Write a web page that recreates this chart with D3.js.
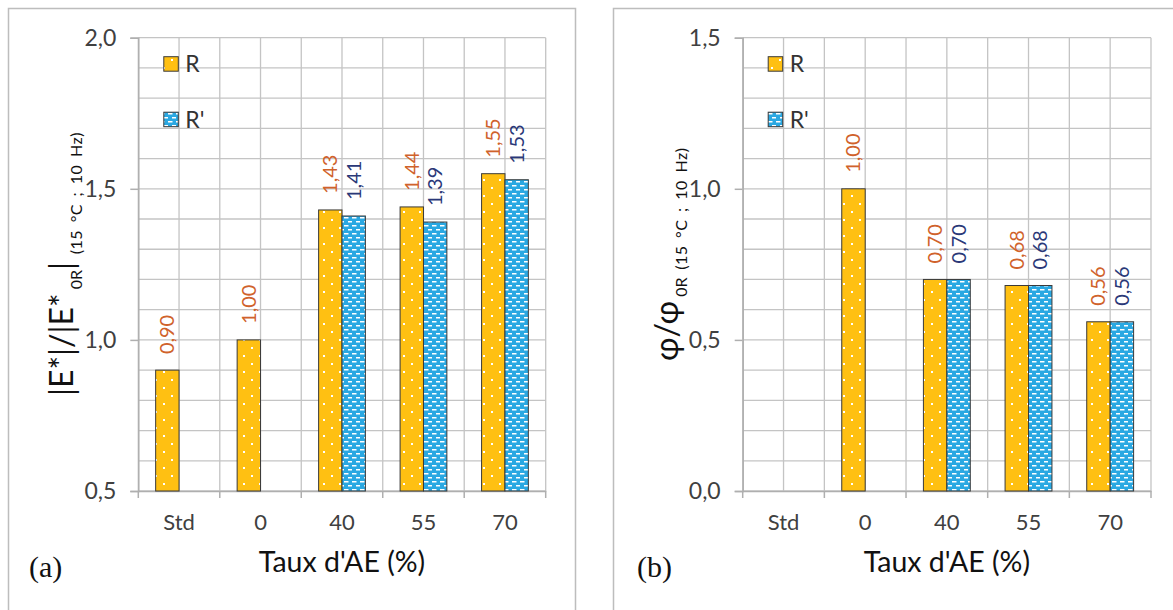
<!DOCTYPE html>
<html><head><meta charset="utf-8">
<script src="https://cdn.jsdelivr.net/npm/d3@7"></script>
<style>
html,body{margin:0;padding:0;background:#fff;}
svg{display:block;font-family:Lato,"Noto Sans",sans-serif;}
</style></head>
<body>
<svg id="c" width="1173" height="610"></svg>
<script>
// ---- data ----
const categories = ["Std", "0", "40", "55", "70"];
const seriesNames = ["R", "R'"];
const modulusR  = [0.90, 1.00, 1.43, 1.44, 1.55];
const modulusRp = [null, null, 1.41, 1.39, 1.53];
const phaseR    = [null, 1.00, 0.70, 0.68, 0.56];
const phaseRp   = [null, null, 0.70, 0.68, 0.56];
const modulusTicks = [0.5, 1.0, 1.5, 2.0];
const phaseTicks   = [0.0, 0.5, 1.0, 1.5];
const xTitle = "Taux d'AE (%)";

const svg = d3.select("#c");
const fmt2 = v => d3.format(".2f")(v).replace(".", ",");
const fmt1 = v => d3.format(".1f")(v).replace(".", ",");

// patterns
const defs = svg.append("defs");
const pR = defs.append("pattern").attr("id","patR").attr("patternUnits","userSpaceOnUse")
  .attr("width",16).attr("height",16);
pR.append("rect").attr("width",16).attr("height",16).attr("fill","#FFC012");
pR.append("rect").attr("x",3).attr("y",3).attr("width",2).attr("height",2).attr("fill","#fff");
pR.append("rect").attr("x",11).attr("y",11).attr("width",2).attr("height",2).attr("fill","#fff");
const pB = defs.append("pattern").attr("id","patRp").attr("patternUnits","userSpaceOnUse")
  .attr("width",8).attr("height",8);
pB.append("rect").attr("width",8).attr("height",8).attr("fill","#2AA8E2");
pB.append("rect").attr("x",0).attr("y",1).attr("width",4.5).attr("height",1.5).attr("fill","#fff");
pB.append("rect").attr("x",4).attr("y",5).attr("width",4.5).attr("height",1.5).attr("fill","#fff");

const fills = ["url(#patR)", "url(#patRp)"];
const labelColors = ["#D0622B", "#2A3878"];

// panel frames
svg.append("path").attr("d","M8.5,620 V8.5 H575.5 V620").attr("fill","none").attr("stroke","#BDBDBD").attr("stroke-width",1.5);
svg.append("path").attr("d","M613.5,620 V8.5 H1180").attr("fill","none").attr("stroke","#BDBDBD").attr("stroke-width",1.5);

function panel(opts) {
  const {left, right, top, bottom, domain, ticks, sR, sRp, tag, tagX, titleParts, titleX, titleStartY} = opts;
  const g = svg.append("g");
  const y = d3.scaleLinear().domain(domain).range([bottom, top]);
  const x = d3.scaleBand().domain(categories).range([left, right]).padding(0);
  const bw = x.bandwidth() * 0.287;

  // horizontal grid every 0.1
  const minor = d3.range(Math.round(domain[0]*10), Math.round(domain[1]*10)+1).map(v => v/10);
  g.selectAll(".hg").data(minor).join("line")
    .attr("x1", left).attr("x2", right).attr("y1", d => y(d)).attr("y2", d => y(d))
    .attr("stroke", "#C4C4C4").attr("stroke-width", 1.3);
  // vertical grid at band edges and centers
  const vx = [];
  categories.forEach(c => { vx.push(x(c)); vx.push(x(c) + x.bandwidth()/2); });
  vx.push(right);
  g.selectAll(".vg").data(vx).join("line")
    .attr("x1", d => d).attr("x2", d => d).attr("y1", top).attr("y2", bottom)
    .attr("stroke", "#C4C4C4").attr("stroke-width", 1.3);

  // y axis
  const ya = d3.axisLeft(y).tickValues(ticks).tickFormat(fmt1).tickSize(8).tickPadding(14);
  const yg = g.append("g").attr("transform", `translate(${left},0)`).call(ya);
  yg.select(".domain").attr("stroke", "#AFAFAF").attr("stroke-width", 1.5);
  yg.selectAll(".tick line").attr("stroke", "#AFAFAF").attr("stroke-width", 1.5);
  yg.selectAll(".tick text").attr("fill", "#404040").style("font-size", "23px").style("font-family", "Lato,sans-serif");

  // x axis
  const xa = d3.axisBottom(x).tickSize(0).tickPadding(23);
  const xg = g.append("g").attr("transform", `translate(0,${bottom})`).call(xa);
  xg.select(".domain").attr("stroke", "#AFAFAF").attr("stroke-width", 1.5);
  xg.selectAll(".tick text").attr("fill", "#404040").style("font-size", "22px").style("font-family", "Lato,sans-serif");
  const edges = categories.map(c => x(c)).concat([right]);
  g.selectAll(".xt").data(edges).join("line")
    .attr("x1", d => d).attr("x2", d => d).attr("y1", bottom).attr("y2", bottom + 7)
    .attr("stroke", "#AFAFAF").attr("stroke-width", 1.5);

  // bars
  [sR, sRp].forEach((s, si) => {
    const data = categories.map((c, i) => ({c, v: s[i]})).filter(d => d.v != null);
    g.selectAll(".bar" + si).data(data).join("rect")
      .attr("x", d => x(d.c) + x.bandwidth()/2 - (si === 0 ? bw : 0))
      .attr("y", d => y(d.v)).attr("width", bw).attr("height", d => bottom - y(d.v))
      .attr("fill", fills[si]).attr("stroke", "#3a3a3a").attr("stroke-width", 1);
    g.selectAll(".lab" + si).data(data).join("text")
      .attr("transform", d => `translate(${x(d.c) + x.bandwidth()/2 + (si === 0 ? -bw/2 : bw/2)},${y(d.v) - 16}) rotate(-90)`)
      .attr("dy", "0.35em").attr("text-anchor", "start")
      .attr("fill", labelColors[si]).style("font-size", "20px")
      .text(d => fmt2(d.v));
  });

  // legend
  seriesNames.forEach((n, i) => {
    const ly = top + 19 + i * 55.5;
    g.append("rect").attr("x", left + 25.5).attr("y", ly).attr("width", 14.5).attr("height", 14.5)
      .attr("fill", fills[i]).attr("stroke", "#3a3a3a").attr("stroke-width", 1);
    g.append("text").attr("x", left + 47).attr("y", ly + 7.5).attr("dy", "0.36em")
      .attr("fill", "#333").style("font-size", "23px").text(n);
  });

  // x title
  g.append("text").attr("x", (left + right) / 2).attr("y", 572).attr("text-anchor", "middle")
    .attr("fill", "#111").style("font-size", "28.5px").text(xTitle);
  // tag
  g.append("text").attr("x", tagX).attr("y", 577)
    .style("font-family", "'Liberation Serif','Times New Roman',serif").style("font-size", "30px")
    .attr("fill", "#111").text(tag);

  // y title
  const t = g.append("text").attr("transform", `translate(${titleX},${titleStartY}) rotate(-90)`)
    .attr("fill", "#111").attr("xml:space", "preserve");
  let shift = 0;
  titleParts.forEach(p => {
    const ts = t.append("tspan").text(p.t).style("font-size", p.size + "px");
    const dy = (p.sub ? 9 : 0) - shift;
    if (dy) ts.attr("dy", dy);
    shift = p.sub ? 9 : 0;
    if (p.ls) ts.style("letter-spacing", p.ls + "px").style("word-spacing", p.ws + "px");
  });
}

panel({left: 138.3, right: 545.7, top: 37.7, bottom: 491, domain: [0.5, 2.0], ticks: modulusTicks,
  sR: modulusR, sRp: modulusRp, tag: "(a)", tagX: 29,
  titleX: 73, titleStartY: 396,
  titleParts: [{t: "|E*|/|E*", size: 32}, {t: " 0R", size: 16, sub: true}, {t: "|", size: 32},
               {t: " (15 °C ; 10 Hz)", size: 16, sub: true, ls: 0.5, ws: 3}]});
panel({left: 742.7, right: 1151, top: 37.7, bottom: 491, domain: [0.0, 1.5], ticks: phaseTicks,
  sR: phaseR, sRp: phaseRp, tag: "(b)", tagX: 637,
  titleX: 678, titleStartY: 361,
  titleParts: [{t: "φ/φ", size: 32}, {t: " 0R", size: 16, sub: true},
               {t: " (15 °C ; 10 Hz)", size: 16, sub: true, ls: 0.5, ws: 3}]});
</script>
</body></html>
